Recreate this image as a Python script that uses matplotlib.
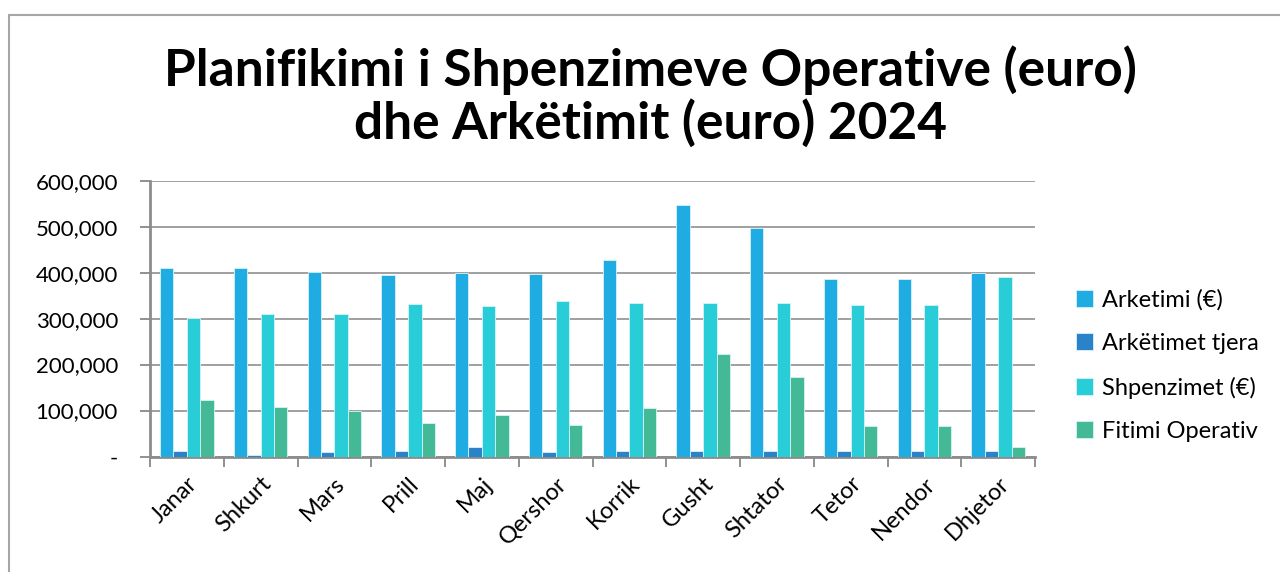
import matplotlib.pyplot as plt
import numpy as np
from matplotlib.ticker import FuncFormatter
from matplotlib.patches import Rectangle

plt.rcParams['font.family'] = ['Lato', 'DejaVu Sans']

months = ['Janar', 'Shkurt', 'Mars', 'Prill', 'Maj', 'Qershor',
          'Korrik', 'Gusht', 'Shtator', 'Tetor', 'Nendor', 'Dhjetor']
arketimi = [411000, 411000, 401000, 394000, 399000, 397000,
            428000, 547000, 497000, 386000, 386000, 400000]
arketimet_tjera = [12000, 4000, 9000, 11000, 21000, 9000,
                   11000, 11000, 11000, 11000, 11000, 11000]
shpenzimet = [301000, 309000, 311000, 332000, 328000, 339000,
              333000, 333000, 333000, 330000, 330000, 390000]
fitimi = [122000, 107000, 100000, 72000, 91000, 68000,
          106000, 224000, 174000, 67000, 67000, 21000]

series = [
    ('Arketimi (€)', arketimi, '#1EACE2'),
    ('Arkëtimet tjera', arketimet_tjera, '#2A82C8'),
    ('Shpenzimet (€)', shpenzimet, '#29CDD7'),
    ('Fitimi Operativ', fitimi, '#43B996'),
]

fig = plt.figure(figsize=(12.8, 5.72), dpi=100)

# outer chart border (only top and left edges visible)
fig.patches.append(Rectangle((9 / 1280, -0.1), 1.2, 1 - 15 / 572 + 0.1,
                             transform=fig.transFigure, fill=False,
                             edgecolor='#A6A6A6', linewidth=1.5))

ax = fig.add_axes([150 / 1280, 1 - 456.5 / 572, 885 / 1280, (456.5 - 180.7) / 572])

x = np.arange(len(months))
w = 0.182
for i, (name, vals, col) in enumerate(series):
    ax.bar(x + (i - 1.5) * w, vals, w, color=col, label=name,
           edgecolor='#D8F4F8', linewidth=0.6, zorder=3)

ax.set_xlim(-0.5, len(months) - 0.5)
ax.set_ylim(0, 600000)
ax.set_yticks(np.arange(0, 600001, 100000))
ax.yaxis.set_major_formatter(FuncFormatter(lambda v, p: '-' if v == 0 else f'{int(v):,}'))
ax.grid(axis='y', color='#A0A0A0', linewidth=1.4, zorder=0)

ax.set_xticks(x)
ax.set_xticklabels(months, rotation=45, ha='right', rotation_mode='anchor', fontsize=17)
ax.set_xticks(np.arange(-0.5, len(months)), minor=True)
ax.tick_params(axis='x', which='major', length=0, pad=12)
ax.tick_params(axis='x', which='minor', length=7, width=1.4, color='#909090')
ax.tick_params(axis='y', length=7, width=1.4, color='#909090', labelsize=16, pad=16)

for s in ['top', 'right']:
    ax.spines[s].set_visible(False)
for s in ['left', 'bottom']:
    ax.spines[s].set_color('#8C8C8C')
    ax.spines[s].set_linewidth(2)

fig.text(650 / 1280, 1 - 97 / 572, 'Planifikimi i Shpenzimeve Operative (euro)\ndhe Arkëtimit (euro) 2024',
         ha='center', va='center', fontsize=37, fontweight='bold', linespacing=1.1)

leg = ax.legend(loc='center left', bbox_to_anchor=(1.022, 0.33), frameon=False,
                fontsize=17, handlelength=0.75, handleheight=0.75, labelspacing=0.95,
                handletextpad=0.35)

fig.savefig('out.png', dpi=100)
